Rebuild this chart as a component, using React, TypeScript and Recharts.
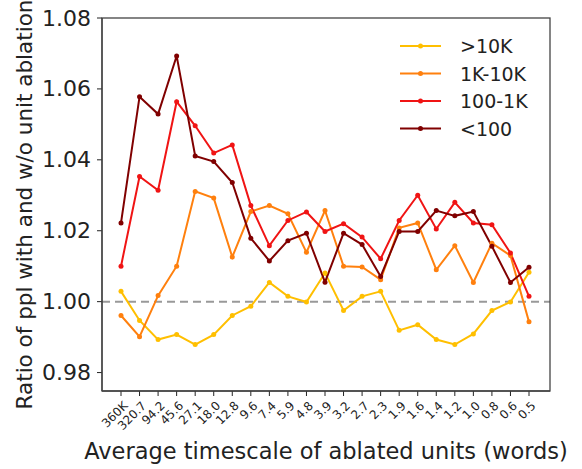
import { Line, LineChart, ReferenceLine, XAxis, YAxis } from "recharts";

const timescales = [
  "360K", "320.7", "94.2", "45.6", "27.1", "18.0", "12.8", "9.6", "7.4", "5.9", "4.8", "3.9",
  "3.2", "2.7", "2.3", "1.9", "1.6", "1.4", "1.2", "1.0", "0.8", "0.6", "0.5",
];

const over10K = [
  1.0029, 0.9947, 0.9893, 0.9907, 0.9879, 0.9907, 0.9961, 0.9987, 1.0054, 1.0015, 0.9999, 1.0081,
  0.9975, 1.0015, 1.0029, 0.9919, 0.9935, 0.9893, 0.9879, 0.9909, 0.9975, 0.9999, 1.0083,
];
const k1to10K = [
  0.9961, 0.9901, 1.0017, 1.01, 1.0311, 1.0292, 1.0126, 1.0254, 1.0271, 1.0248, 1.0139, 1.0257,
  1.01, 1.0098, 1.0062, 1.0208, 1.0222, 1.009, 1.0158, 1.0054, 1.0165, 1.013, 0.9943,
];
const h100to1K = [
  1.01, 1.0353, 1.0314, 1.0564, 1.0496, 1.0419, 1.0442, 1.0271, 1.0158, 1.0229, 1.0253, 1.0198,
  1.022, 1.0182, 1.0121, 1.0229, 1.03, 1.0205, 1.028, 1.0222, 1.0217, 1.0137, 1.0015,
];
const under100 = [
  1.0222, 1.0578, 1.0529, 1.0693, 1.0411, 1.0395, 1.0336, 1.0179, 1.0115, 1.0172, 1.0193, 1.0055,
  1.0193, 1.0161, 1.0071, 1.0198, 1.0198, 1.0257, 1.0242, 1.0254, 1.0156, 1.0054, 1.0097,
];

const yTicks = [0.98, 1.0, 1.02, 1.04, 1.06, 1.08];

const SERIES = [
  { key: "over10K", name: ">10K", color: "#ffbf00" },
  { key: "k1to10K", name: "1K-10K", color: "#ff800e" },
  { key: "h100to1K", name: "100-1K", color: "#f01414" },
  { key: "under100", name: "<100", color: "#800000" },
];

const data = timescales.map((t, i) => ({
  t,
  over10K: over10K[i],
  k1to10K: k1to10K[i],
  h100to1K: h100to1K[i],
  under100: under100[i],
}));

const FONT = "DejaVu Sans, sans-serif";
const W = 582;
const H = 469;
const margin = { top: 18, right: 32, left: 42, bottom: 28 };
const Y_W = 60;
const X_H = 50;
// plot frame (matplotlib spines)
const frame = {
  x: margin.left + Y_W,
  y: margin.top,
  w: W - margin.left - Y_W - margin.right,
  h: H - margin.top - margin.bottom - X_H,
};

function XTick({ x, y, payload }: any) {
  return (
    <text
      transform={`translate(${x + 5},${y + 6}) rotate(-45)`}
      textAnchor="end"
      dominantBaseline="middle"
      fontFamily={FONT}
      fontSize={12}
      fill="#222"
    >
      {payload.value}
    </text>
  );
}

function YTick({ x, y, payload }: any) {
  return (
    <text x={x - 4} y={y} textAnchor="end" dominantBaseline="central" fontFamily={FONT} fontSize={22} fill="#222">
      {payload.value.toFixed(2)}
    </text>
  );
}

export default function App() {
  return (
    <div style={{ position: "absolute", left: 0, top: 0, width: W, height: H, background: "#fff" }}>
      <svg width={W} height={H} style={{ position: "absolute", left: 0, top: 0, pointerEvents: "none", zIndex: 2 }}>
        <rect x={frame.x} y={frame.y} width={frame.w} height={frame.h} fill="none" stroke="#444" strokeWidth={1.3} />
        <text
          transform={`translate(24,${frame.y + frame.h / 2}) rotate(-90)`}
          textAnchor="middle"
          dominantBaseline="central"
          fontFamily={FONT}
          fontSize={21.5}
          fill="#222"
        >
          Ratio of ppl with and w/o unit ablation
        </text>
        <text x={frame.x + frame.w / 2} y={459} textAnchor="middle" fontFamily={FONT} fontSize={22.5} fill="#222">
          Average timescale of ablated units (words)
        </text>
        {SERIES.map((s, i) => (
          <g key={s.key}>
            <line x1={400} x2={441} y1={46 + i * 27.5} y2={46 + i * 27.5} stroke={s.color} strokeWidth={2} />
            <circle cx={420.5} cy={46 + i * 27.5} r={2.5} fill={s.color} />
            <text x={460} y={46 + i * 27.5} dominantBaseline="central" fontFamily={FONT} fontSize={19} fill="#222">
              {s.name}
            </text>
          </g>
        ))}
      </svg>
      <LineChart width={W} height={H} data={data} margin={margin}>
        <XAxis
          dataKey="t"
          interval={0}
          padding={{ left: 19, right: 21 }}
          height={X_H}
          tick={<XTick />}
          tickLine={{ stroke: "#222" }}
          tickSize={5}
          axisLine={{ stroke: "#444", strokeWidth: 1.3 }}
        />
        <YAxis
          domain={[0.9748, 1.08]}
          ticks={yTicks}
          allowDataOverflow
          width={Y_W}
          tick={<YTick />}
          tickLine={{ stroke: "#222" }}
          tickSize={5}
          axisLine={{ stroke: "#444", strokeWidth: 1.3 }}
        />
        <ReferenceLine y={1} stroke="#999" strokeWidth={2} strokeDasharray="8 5" />
        {SERIES.map((s) => (
          <Line
            key={s.key}
            dataKey={s.key}
            name={s.name}
            stroke={s.color}
            strokeWidth={2}
            dot={{ r: 2.5, fill: s.color, stroke: s.color, strokeWidth: 0 }}
            isAnimationActive={false}
          />
        ))}
      </LineChart>
    </div>
  );
}
